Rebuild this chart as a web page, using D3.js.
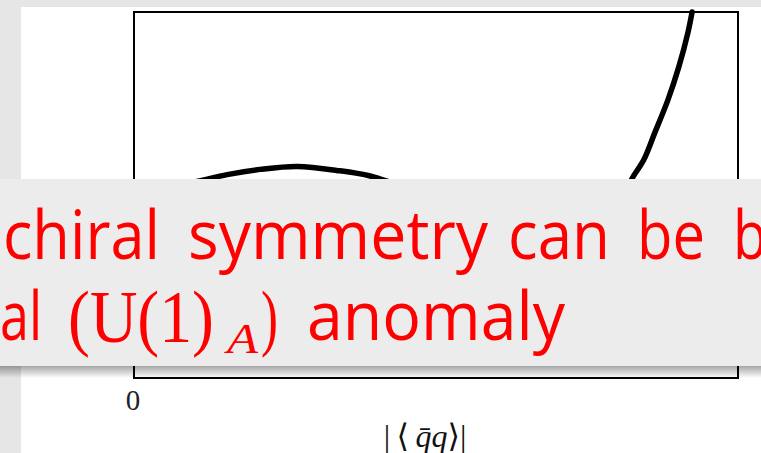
<!DOCTYPE html>
<html>
<head>
<meta charset="utf-8">
<script src="https://cdn.jsdelivr.net/npm/d3@7"></script>
<style>
  html, body { margin: 0; padding: 0; background: #e6e6e6; }
  svg { display: block; }
</style>
</head>
<body>
<svg id="chart" width="761" height="453"></svg>
<script>
// Effective potential V(|<qq>|), sampled along the order parameter (normalised units)
const orderParam = [0, 0.043, 0.084, 0.123, 0.159, 0.209, 0.270, 0.341, 0.391, 0.407, 0.457, 0.507,
                    0.556, 0.598, 0.639, 0.680, 0.714, 0.747, 0.780, 0.805, 0.826, 0.844, 0.862,
                    0.884, 0.902, 0.917, 0.924];
const potential  = [0.516, 0.520, 0.530, 0.544, 0.557, 0.570, 0.578, 0.566, 0.552, 0.544, 0.516, 0.473,
                    0.426, 0.393, 0.377, 0.377, 0.388, 0.413, 0.451, 0.489, 0.549, 0.596, 0.669,
                    0.760, 0.850, 0.943, 1.000];
const xTicks = [0];

// Axis title pieces: upright delimiters, italic quark fields
const xTitleParts = [
  { t: "|\u2009",       it: false },
  { t: "\u27E8\u2009", it: false },
  { t: "q\u0304q",     it: true },
  { t: "\u27E9|",      it: false }
];

// Caption words and their left edges / widths
const captionLine1 = [
  { t: "chiral",   x: 3,   w: 157 },
  { t: "symmetry", x: 188, w: 300 },
  { t: "can",      x: 508, w: 102 },
  { t: "be",       x: 637, w: 68 },
  { t: "b",        x: 733, w: 34 }
];

const svg = d3.select("#chart");
const W = 761, H = 453;

// page background and white sheet
svg.append("rect").attr("width", W).attr("height", H).attr("fill", "#e6e6e6");
svg.append("rect").attr("x", 21).attr("y", 7).attr("width", W - 21).attr("height", H - 7).attr("fill", "#ffffff");

const plot = { left: 134, top: 12, right: 738, bottom: 378 };
const x = d3.scaleLinear().domain([0, 1]).range([plot.left, plot.right]);
const y = d3.scaleLinear().domain([0, 1]).range([plot.bottom, plot.top]);

// potential curve
const pts = orderParam.map((v, i) => [v, potential[i]]);
const line = d3.line().x(d => x(d[0])).y(d => y(d[1])).curve(d3.curveCatmullRom.alpha(0.5));
svg.append("path")
  .attr("d", line(pts))
  .attr("fill", "none")
  .attr("stroke", "#000")
  .attr("stroke-width", 5.5)
  .attr("stroke-linecap", "round")
  .attr("stroke-linejoin", "round");

// frame
svg.append("rect")
  .attr("x", plot.left).attr("y", plot.top)
  .attr("width", plot.right - plot.left).attr("height", plot.bottom - plot.top)
  .attr("fill", "none").attr("stroke", "#000").attr("stroke-width", 2);

// x axis: single tick at the origin
const xAxis = d3.axisBottom(x).tickValues(xTicks).tickSize(0).tickFormat(d3.format("d"));
const gx = svg.append("g").attr("transform", `translate(0,${plot.bottom})`).call(xAxis);
gx.select(".domain").remove();
gx.selectAll("text")
  .attr("font-family", "'Liberation Serif', 'DejaVu Serif', serif")
  .attr("font-size", 29)
  .attr("fill", "#222")
  .attr("y", 32).attr("dy", 0)
  .attr("dx", -1.5);

const title = svg.append("text")
  .attr("x", 425).attr("y", 447)
  .attr("text-anchor", "middle")
  .attr("font-family", "'Liberation Serif', 'DejaVu Serif', serif")
  .attr("font-size", 32)
  .attr("fill", "#111");
title.selectAll("tspan").data(xTitleParts).join("tspan")
  .attr("font-style", d => d.it ? "italic" : "normal")
  .text(d => d.t);

// caption banner
const defs = svg.append("defs");
const grad = defs.append("linearGradient").attr("id", "shade").attr("x1", 0).attr("x2", 0).attr("y1", 0).attr("y2", 1);
grad.append("stop").attr("offset", "0%").attr("stop-color", "#000").attr("stop-opacity", 0.35);
grad.append("stop").attr("offset", "100%").attr("stop-color", "#000").attr("stop-opacity", 0);

svg.append("rect").attr("x", 0).attr("y", 366).attr("width", W).attr("height", 12).attr("fill", "url(#shade)");
svg.append("rect").attr("x", 0).attr("y", 179).attr("width", W).attr("height", 187).attr("fill", "#ececec");

const sans = "'Open Sans', 'Noto Sans', sans-serif";
const serif = "'Liberation Serif', 'DejaVu Serif', serif";

const cap = svg.append("g").attr("fill", "#ff0000");
cap.selectAll("text.l1").data(captionLine1).join("text")
  .attr("class", "l1")
  .attr("x", d => d.x).attr("y", 259)
  .attr("font-family", sans).attr("font-size", 68)
  .attr("textLength", d => d.w).attr("lengthAdjust", "spacingAndGlyphs")
  .text(d => d.t);

const line2 = [
  { t: "al",      x: 0,   y: 340, w: 42,  f: sans,  s: 68, it: false },
  { t: "(U(1)",   x: 68,  y: 342, w: 146, f: serif, s: 74, it: false },
  { t: "A",       x: 227, y: 353, w: 31,  f: serif, s: 42, it: true },
  { t: ")",       x: 261, y: 342, w: 17,  f: serif, s: 74, it: false },
  { t: "anomaly", x: 307, y: 340, w: 258, f: sans,  s: 68, it: false }
];
cap.selectAll("text.l2").data(line2).join("text")
  .attr("class", "l2")
  .attr("x", d => d.x).attr("y", d => d.y)
  .attr("font-family", d => d.f).attr("font-size", d => d.s)
  .attr("font-style", d => d.it ? "italic" : "normal")
  .attr("textLength", d => d.w).attr("lengthAdjust", "spacingAndGlyphs")
  .text(d => d.t);
</script>
</body>
</html>
